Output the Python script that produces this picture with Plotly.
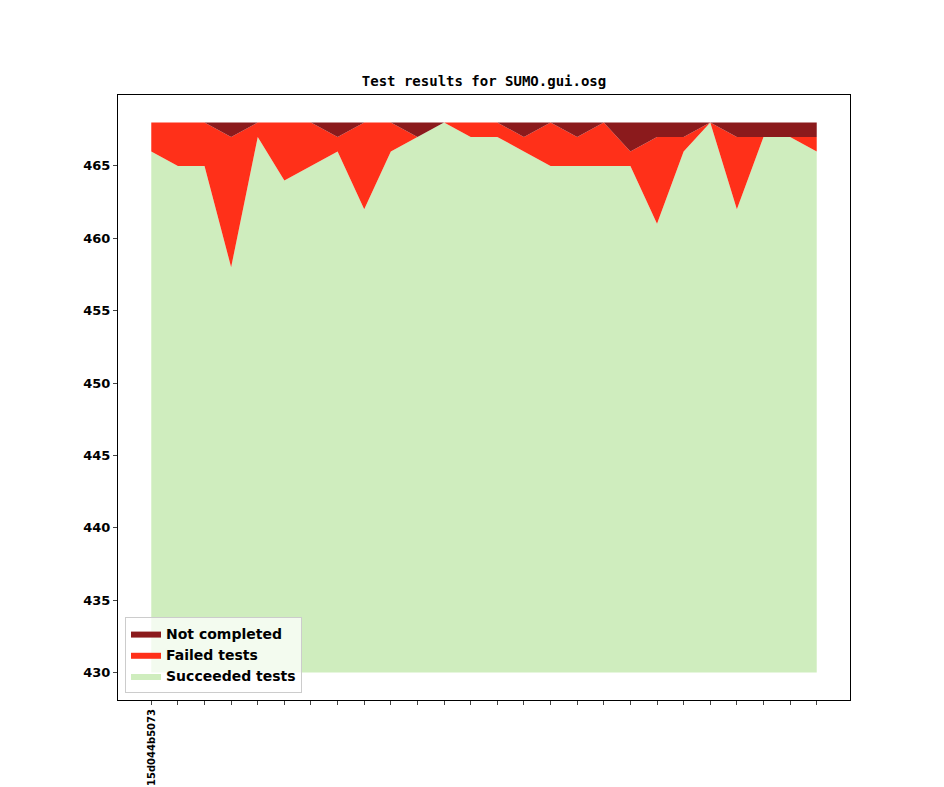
import plotly.graph_objects as go

commits = ["15d044b5073"] + [""] * 25
succeeded = [466, 465, 465, 458, 467, 464, 465, 466, 462, 466, 467, 468, 467,
             467, 466, 465, 465, 465, 465, 461, 466, 468, 462, 467, 467, 466]
failed = [2, 3, 3, 9, 1, 4, 3, 1, 6, 2, 0, 0, 1,
          1, 1, 3, 2, 3, 1, 6, 1, 0, 5, 0, 0, 1]
not_completed = [0, 0, 0, 1, 0, 0, 0, 1, 0, 0, 1, 0, 0,
                 0, 1, 0, 1, 0, 2, 1, 1, 0, 1, 1, 1, 1]
baseline = 430

x = list(range(len(succeeded)))
level1 = succeeded
level2 = [s + f for s, f in zip(succeeded, failed)]
level3 = [l + n for l, n in zip(level2, not_completed)]

fig = go.Figure()
fig.add_trace(go.Scatter(x=x, y=[baseline] * len(x), mode="lines", line=dict(width=0),
                         showlegend=False, hoverinfo="skip"))
for name, y, color in [("Succeeded tests", level1, "#cfedbe"),
                       ("Failed tests", level2, "#ff3019"),
                       ("Not completed", level3, "#8b1a1c")]:
    fig.add_trace(go.Scatter(x=x, y=y, name=name, mode="lines", line=dict(width=0),
                             fill="tonexty", fillcolor=color))

# page body has an 8px margin, so shift everything up/left by that much
fig.update_layout(
    width=944, height=787,
    margin=dict(l=110, r=102, t=87, b=95),
    paper_bgcolor="white", plot_bgcolor="white",
    title=dict(text="<b>Test results for SUMO.gui.osg</b>", x=(110 + 842) / 2 / 944, xanchor="center",
               y=1 - 73 / 787, yanchor="middle",
               font=dict(family="DejaVu Sans Mono", size=14, color="black")),
    font=dict(family="DejaVu Sans", color="black"),
    legend=dict(x=0.0096, y=0.0116, xanchor="left", yanchor="bottom", traceorder="reversed",
                bgcolor="rgba(255,255,255,0.75)", bordercolor="#cccccc", borderwidth=1,
                font=dict(size=14, family="DejaVu Sans", weight="bold")),
)
fig.update_xaxes(range=[-1.25, 26.25], tickvals=x, ticktext=commits, tickangle=-90,
                 ticks="outside", ticklen=4, showgrid=False, zeroline=False, automargin=False,
                 showline=True, mirror=True, linecolor="black", linewidth=1,
                 tickfont=dict(size=10, weight="bold"))
fig.update_yaxes(range=[428.1, 469.9], tickvals=[430, 435, 440, 445, 450, 455, 460, 465],
                 ticks="outside", ticklen=4, showgrid=False, zeroline=False, automargin=False,
                 showline=True, mirror=True, linecolor="black", linewidth=1,
                 tickfont=dict(size=13, weight="bold"))

fig.write_html("out.html")
